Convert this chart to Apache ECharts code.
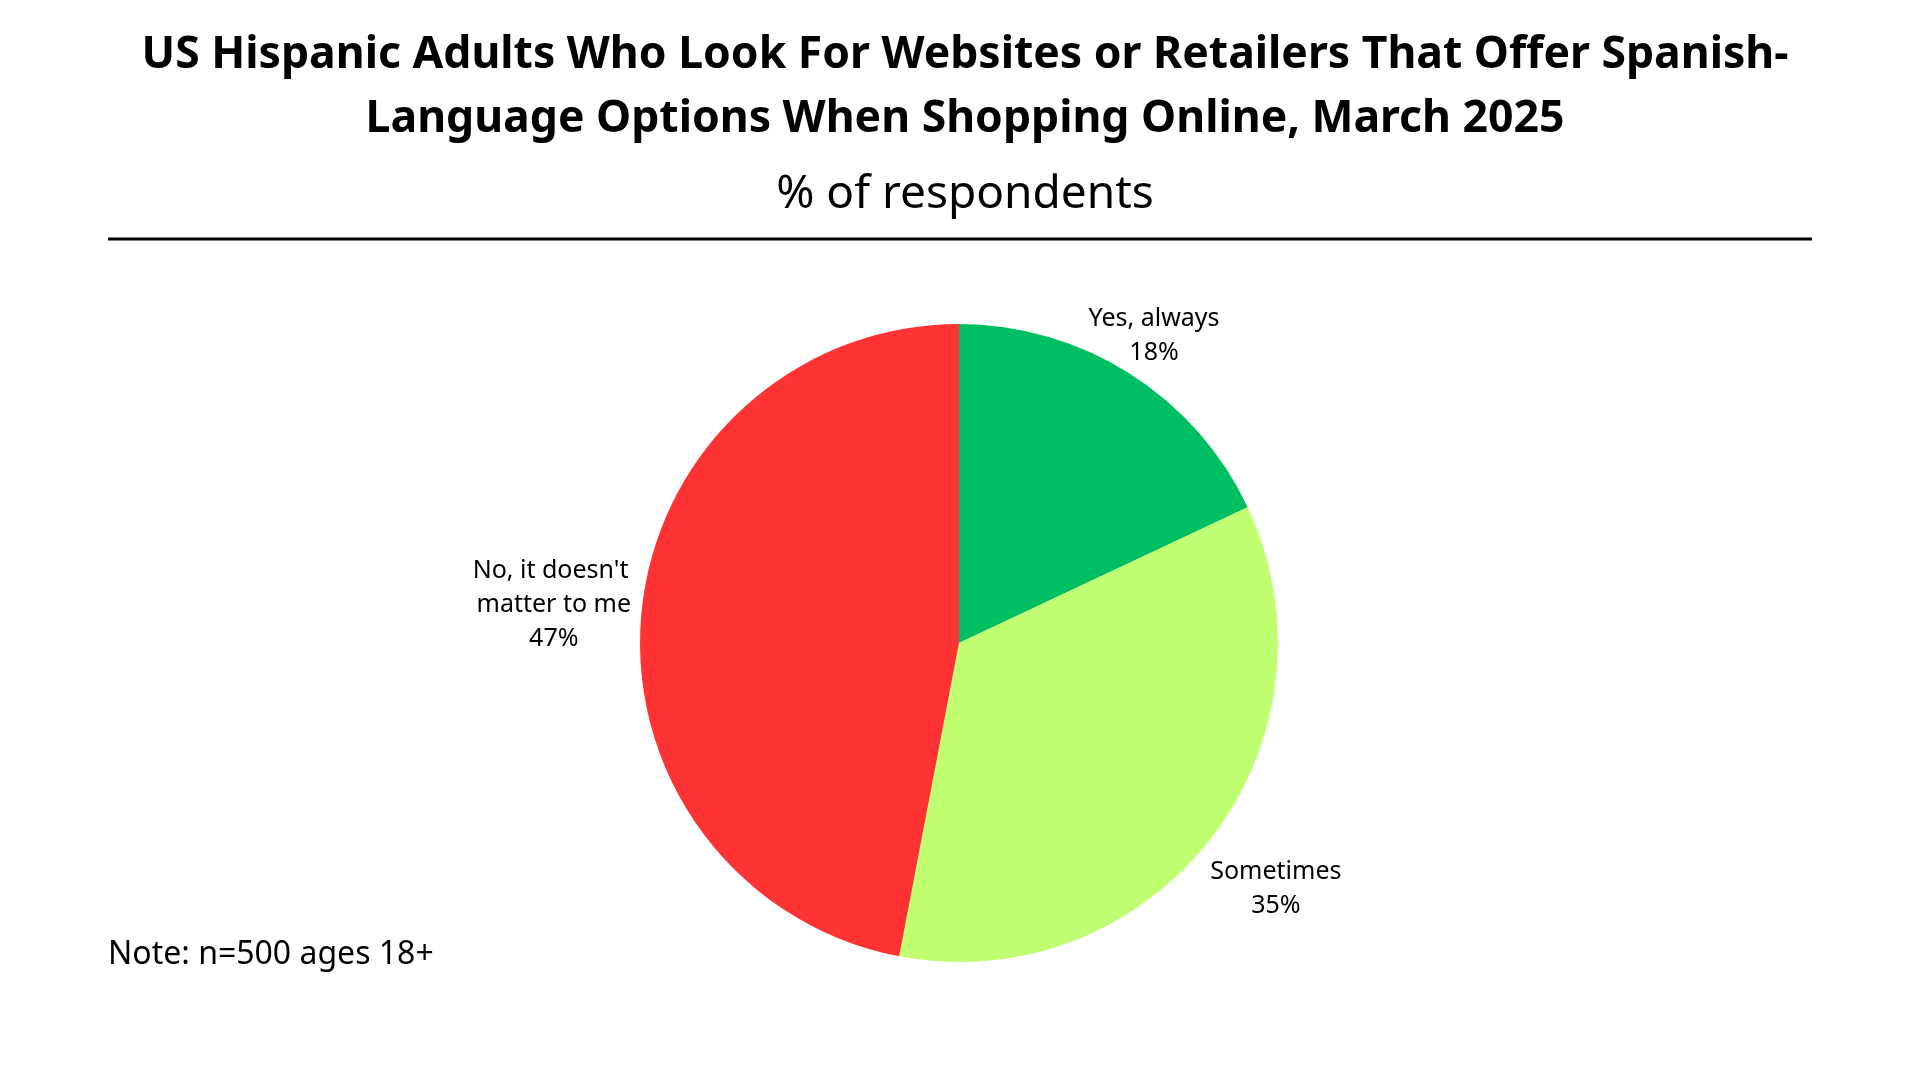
<!DOCTYPE html>
<html>
<head>
<meta charset="utf-8">
<style>
html,body{margin:0;padding:0;background:#fff;}
#chart{width:1920px;height:1080px;}
</style>
<script src="https://cdn.jsdelivr.net/npm/echarts@6/dist/echarts.min.js"></script>
</head>
<body>
<div id="chart"></div>
<script>
const titleText = "US Hispanic Adults Who Look For Websites or Retailers That Offer Spanish-\nLanguage Options When Shopping Online, March 2025";
const subtitleText = "% of respondents";
const noteText = "Note: n=500 ages 18+";
const categories = ["Yes, always", "Sometimes", "No, it doesn't matter to me"];
const values = [18, 35, 47];
const colors = ["#00BF63", "#C1FF72", "#FF3333"];

// layout constants (style, not data)
const CX = 959, CY = 643, R = 319;
const labelDist = [364, 401, 407];

const total = values.reduce((a, b) => a + b, 0);
const chart = echarts.init(document.getElementById('chart'));
const FONT = '"Noto Sans", "Open Sans", sans-serif';
chart.setOption({
  backgroundColor: '#ffffff',
  animation: false,
  title: [
    {
      text: titleText,
      left: 960, top: 18,
      textAlign: 'center',
      textStyle: {fontFamily: FONT, fontWeight: 'bold', fontSize: 44.5, lineHeight: 64, color: '#000'}
    },
    {
      text: subtitleText,
      left: 960, top: 167,
      textAlign: 'center',
      textStyle: {fontFamily: FONT, fontWeight: 'normal', fontSize: 46, color: '#000'}
    }
  ],
  graphic: [
    {type: 'line', shape: {x1: 108, y1: 239, x2: 1812, y2: 239}, style: {stroke: '#000', lineWidth: 3}},
    {type: 'text', left: 108, top: 939, style: {text: noteText, font: '32px "Noto Sans", sans-serif', fill: '#000'}}
  ],
  series: [{
    type: 'pie',
    center: [CX, CY],
    radius: R,
    startAngle: 90,
    clockwise: true,
    data: categories.map((c, i) => ({
      name: c, value: values[i], itemStyle: {color: colors[i]},
      label: i === 2 ? {width: 185, overflow: 'break'} : {}
    })),
    label: {
      show: true,
      position: 'outside',
      formatter: '{b}\n{d}%',
      fontFamily: FONT,
      fontSize: 25,
      lineHeight: 34,
      color: '#000'
    },
    labelLine: {show: false, length: 20, length2: 0},
    labelLayout: function (p) {
      const i = p.dataIndex;
      let cum = 0;
      for (let j = 0; j < i; j++) cum += values[j];
      const mid = (cum + values[i] / 2) / total * Math.PI * 2;
      const d = labelDist[i];
      return {
        x: CX + Math.sin(mid) * d,
        y: CY - Math.cos(mid) * d,
        align: 'center',
        verticalAlign: 'middle'
      };
    },
    emphasis: {disabled: true}
  }]
});
</script>
</body>
</html>
